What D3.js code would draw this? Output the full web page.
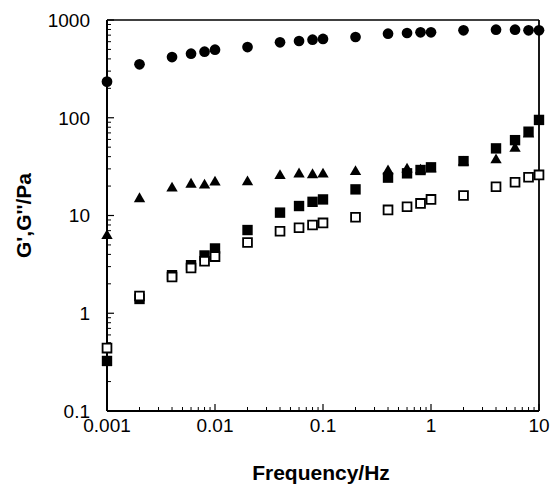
<!DOCTYPE html>
<html>
<head>
<meta charset="utf-8">
<script src="https://cdn.jsdelivr.net/npm/d3@7"></script>
<style>
  body { margin: 0; background: #fff; }
  svg { display: block; font-family: "Liberation Sans", Arial, sans-serif; }
</style>
</head>
<body>
<div id="chart"></div>
<script>
// Data ---------------------------------------------------------
var freq = [0.001, 0.002, 0.004, 0.006, 0.008, 0.01, 0.02, 0.04, 0.06, 0.08, 0.1,
            0.2, 0.4, 0.6, 0.8, 1, 2, 4, 6, 8, 10];
var circleVals = [234, 352, 418, 452, 474, 497, 529, 591, 610, 629, 640,
                  670, 724, 736, 748, 748, 785, 796, 796, 785, 785];
var triangleVals = [6.2, 14.8, 19, 20.8, 20.4, 21.9, 22, 25.5, 26.5, 26, 26.4,
                    28, 28.5, 29.7, 29, 30, 35, 37, 48.6, 68, null];
var filledSqVals = [0.325, 1.4, 2.45, 3.1, 3.9, 4.6, 7.1, 10.7, 12.5, 13.8, 14.6,
                    18.5, 24.4, 27, 29.2, 31.1, 36, 48.6, 59, 72, 95];
var openSqVals = [0.44, 1.5, 2.35, 2.9, 3.4, 3.8, 5.3, 6.9, 7.5, 8.0, 8.4,
                  9.6, 11.4, 12.3, 13.3, 14.6, 16, 19.7, 21.9, 24.6, 26];

var xTicks = [0.001, 0.01, 0.1, 1, 10];
var xTickLabels = ["0.001", "0.01", "0.1", "1", "10"];
var yTicks = [0.1, 1, 10, 100, 1000];
var yTickLabels = ["0.1", "1", "10", "100", "1000"];
var xTitle = "Frequency/Hz";
var yTitle = "G',G''/Pa";

// Layout ---------------------------------------------------------
var W = 552, H = 487;
var margin = { top: 20, right: 13, bottom: 76, left: 107 };
var width = W - margin.left - margin.right,
    height = H - margin.top - margin.bottom;

var svg = d3.select("#chart").append("svg")
    .attr("width", W)
    .attr("height", H);

var g = svg.append("g")
    .attr("transform", "translate(" + margin.left + "," + margin.top + ")");

var x = d3.scaleLog().domain([0.001, 10]).range([0, width]);
var y = d3.scaleLog().domain([0.1, 1000]).range([height, 0]);

// minor tick values (2..9 inside each decade)
function minors(lo, hi) {
    var out = [];
    for (var p = Math.log10(lo); p < Math.log10(hi); p++) {
        for (var k = 2; k <= 9; k++) out.push(k * Math.pow(10, p));
    }
    return out;
}

// frame: top and right edges
g.append("line").attr("x1", 0).attr("x2", width).attr("y1", 0).attr("y2", 0)
    .attr("stroke", "#000").attr("stroke-width", 1.5);
g.append("line").attr("x1", width).attr("x2", width).attr("y1", 0).attr("y2", height)
    .attr("stroke", "#000").attr("stroke-width", 1.8);

// Y axis, ticks point inward
var yAxis = g.append("g");
yAxis.selectAll(".minor").data(minors(0.1, 1000)).enter().append("line")
    .attr("x1", 0).attr("x2", 4)
    .attr("y1", function (d) { return y(d); })
    .attr("y2", function (d) { return y(d); })
    .attr("stroke", "#000").attr("stroke-width", 1);
yAxis.selectAll(".major").data(yTicks).enter().append("line")
    .attr("x1", 0).attr("x2", 7)
    .attr("y1", function (d) { return y(d); })
    .attr("y2", function (d) { return y(d); })
    .attr("stroke", "#000").attr("stroke-width", 1.2);
yAxis.selectAll("text").data(yTicks).enter().append("text")
    .attr("x", -17)
    .attr("y", function (d) { return y(d); })
    .attr("dy", "0.36em")
    .attr("text-anchor", "end")
    .style("font-size", "19px")
    .text(function (d, i) { return yTickLabels[i]; });
yAxis.append("line").attr("x1", 0).attr("x2", 0).attr("y1", 0).attr("y2", height)
    .attr("stroke", "#000").attr("stroke-width", 2);

// X axis, ticks point inward
var xAxis = g.append("g").attr("transform", "translate(0," + height + ")");
xAxis.selectAll(".minor").data(minors(0.001, 10)).enter().append("line")
    .attr("y1", 0).attr("y2", -4)
    .attr("x1", function (d) { return x(d); })
    .attr("x2", function (d) { return x(d); })
    .attr("stroke", "#000").attr("stroke-width", 1);
xAxis.selectAll(".major").data(xTicks).enter().append("line")
    .attr("y1", 0).attr("y2", -7)
    .attr("x1", function (d) { return x(d); })
    .attr("x2", function (d) { return x(d); })
    .attr("stroke", "#000").attr("stroke-width", 1.2);
xAxis.selectAll("text").data(xTicks).enter().append("text")
    .attr("x", function (d) { return x(d); })
    .attr("y", 21)
    .attr("text-anchor", "middle")
    .style("font-size", "19px")
    .text(function (d, i) { return xTickLabels[i]; });
xAxis.append("line").attr("x1", 0).attr("x2", width).attr("y1", 0).attr("y2", 0)
    .attr("stroke", "#000").attr("stroke-width", 2);

// Axis titles
svg.append("text")
    .attr("x", margin.left + width / 2 - 2)
    .attr("y", 480)
    .attr("text-anchor", "middle")
    .style("font-size", "21px")
    .style("font-weight", "bold")
    .text(xTitle);
svg.append("text")
    .attr("transform", "translate(31," + (margin.top + height / 2) + ") rotate(-90)")
    .attr("text-anchor", "middle")
    .style("font-size", "21px")
    .style("font-weight", "bold")
    .text(yTitle);

// Markers --------------------------------------------------------
function series(vals, symbol, size, fill, stroke) {
    var pts = freq.map(function (f, i) { return { f: f, v: vals[i] }; })
        .filter(function (d) { return d.v != null; });
    g.append("g").selectAll("path").data(pts).enter().append("path")
        .attr("transform", function (d) { return "translate(" + x(d.f) + "," + y(d.v) + ")"; })
        .attr("d", d3.symbol().type(symbol).size(size))
        .attr("fill", fill)
        .attr("stroke", stroke ? "#000" : "none")
        .attr("stroke-width", stroke ? 1.8 : 0);
}

series(circleVals, d3.symbolCircle, 90, "#000", false);
series(triangleVals, d3.symbolTriangle, 56, "#000", false);
series(filledSqVals, d3.symbolSquare, 108, "#000", false);
series(openSqVals, d3.symbolSquare, 78, "#fff", true);
</script>
</body>
</html>
